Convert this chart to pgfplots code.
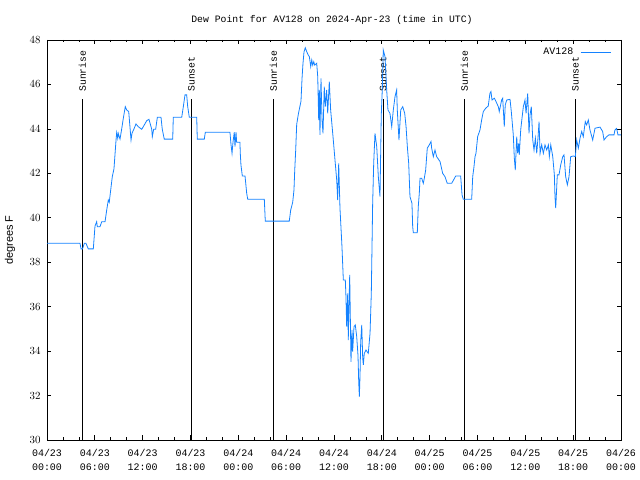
\documentclass[border=0pt]{standalone}
\usepackage{fontspec}
\setmainfont{Liberation Sans}
\newfontfamily\monofont{Liberation Mono}
\usepackage{pgfplots}
\pgfplotsset{compat=1.18}
\definecolor{dew}{RGB}{20,130,255}
\begin{document}
\begin{tikzpicture}
\path[use as bounding box] (0,0) rectangle (640bp,480bp);
\begin{axis}[
  at={(47bp,40bp)}, anchor=south west,
  scale only axis, width=574bp, height=400bp,
  xmin=0, xmax=72, ymin=30, ymax=48,
  xtick={0,6,...,72}, minor x tick num=2,
  xticklabels={04/23\\00:00,04/23\\06:00,04/23\\12:00,04/23\\18:00,04/24\\00:00,04/24\\06:00,04/24\\12:00,04/24\\18:00,04/25\\00:00,04/25\\06:00,04/25\\12:00,04/25\\18:00,04/26\\00:00},
  ytick={30,32,...,48},
  tick align=inside,
  major tick length=4.5bp, minor tick length=2.5bp,
  every tick/.style={black, line width=0.7bp},
  axis line style={line width=0.8bp},
  xticklabel style={align=center, font=\monofont\fontsize{10}{14}\selectfont, yshift=-6bp},
  yticklabel style={font=\fontsize{11}{12}\selectfont, xshift=-3bp},
  clip=false,
  legend style={at={(rel axis cs:0.983,0.985)}, anchor=north east, draw=none, fill=none, font=\monofont\fontsize{10}{12}\selectfont, inner sep=0pt, column sep=5bp},
  legend plot pos=right,
  legend image code/.code={\draw[#1] (0bp,0bp) -- (30bp,0bp);},
]
% sunrise / sunset lines
\addplot[black, line width=0.8bp, forget plot] coordinates {(4.43,30) (4.43,45.35)};
\addplot[black, line width=0.8bp, forget plot] coordinates {(18.10,30) (18.10,45.35)};
\addplot[black, line width=0.8bp, forget plot] coordinates {(28.39,30) (28.39,45.35)};
\addplot[black, line width=0.8bp, forget plot] coordinates {(42.18,30) (42.18,45.35)};
\addplot[black, line width=0.8bp, forget plot] coordinates {(52.34,30) (52.34,45.35)};
\addplot[black, line width=0.8bp, forget plot] coordinates {(66.27,30) (66.27,45.35)};
\node[rotate=90, anchor=west, font=\monofont\fontsize{9.8}{12}\selectfont, inner sep=0pt, xshift=7bp] at (axis cs:4.43,45.35) {Sunrise};
\node[rotate=90, anchor=west, font=\monofont\fontsize{9.8}{12}\selectfont, inner sep=0pt, xshift=7bp] at (axis cs:18.10,45.35) {Sunset};
\node[rotate=90, anchor=west, font=\monofont\fontsize{9.8}{12}\selectfont, inner sep=0pt, xshift=7bp] at (axis cs:28.39,45.35) {Sunrise};
\node[rotate=90, anchor=west, font=\monofont\fontsize{9.8}{12}\selectfont, inner sep=0pt, xshift=7bp] at (axis cs:42.18,45.35) {Sunset};
\node[rotate=90, anchor=west, font=\monofont\fontsize{9.8}{12}\selectfont, inner sep=0pt, xshift=7bp] at (axis cs:52.34,45.35) {Sunrise};
\node[rotate=90, anchor=west, font=\monofont\fontsize{9.8}{12}\selectfont, inner sep=0pt, xshift=7bp] at (axis cs:66.27,45.35) {Sunset};
\addplot[dew, line width=0.8bp] coordinates {
(0,38.85) (4.14,38.85) (4.27,38.6) (4.45,38.6) (4.68,38.85) (4.89,38.85) (5.18,38.6) (5.81,38.6)
(6.02,39.63) (6.23,39.82) (6.31,39.6) (6.65,39.6) (6.86,39.82) (7.28,39.82) (7.49,40.35) (7.69,40.8)
(7.81,40.7) (7.99,41.25) (8.19,41.85) (8.40,42.2) (8.66,43.5) (8.74,43.83) (8.87,43.58) (8.94,43.8)
(9.16,43.54) (9.37,44.0) (9.57,44.47) (9.82,45.0) (10.0,44.85) (10.25,44.78) (10.54,43.5) (10.66,43.8)
(10.91,44.0) (11.16,44.22) (11.45,44.1) (11.88,43.98) (12.21,44.18) (12.51,44.37) (12.79,44.43)
(13.14,43.98) (13.21,43.65) (13.38,43.98) (13.63,43.98) (13.84,44.52) (14.30,44.52) (14.46,43.98)
(14.71,43.54) (15.77,43.54) (15.84,44.52) (16.9,44.52) (17.10,45.0) (17.31,45.53) (17.52,45.53)
(17.65,45.0) (17.85,44.52) (18.78,44.52) (18.85,43.54) (19.73,43.54) (19.86,43.85)
(22.95,43.85) (23.08,43.3) (23.21,42.9) (23.33,43.4) (23.49,43.85) (23.58,43.2) (23.71,43.85)
(23.79,43.4) (24.20,43.4) (24.25,42.87) (24.33,42.37) (24.50,41.88) (24.84,41.88) (25.05,41.1)
(25.18,40.83) (27.26,40.83) (27.38,39.85) (30.39,39.85) (30.57,40.35) (30.82,40.7) (30.98,41.25)
(31.07,42.1) (31.19,43.0) (31.32,44.2) (31.52,44.65) (31.86,45.25) (31.99,46.27) (32.11,46.95)
(32.24,47.47) (32.40,47.65) (32.58,47.47) (32.78,47.32) (32.91,47.25) (33.08,46.8) (33.21,47.1)
(33.33,46.87) (33.46,47.02) (33.58,46.87) (33.83,46.95) (33.96,46.35) (34.08,44.4) (34.16,45.75)
(34.24,43.73) (34.37,46.27) (34.50,44.4) (34.62,43.8) (34.78,45.9) (34.91,45.0) (35.08,45.75)
(35.21,44.7) (35.41,46.13) (35.58,44.85) (35.84,43.8) (36.16,42.45) (36.34,41.7) (36.46,40.8)
(36.59,42.45) (36.75,40.43) (37.0,38.7) (37.17,37.2) (37.42,37.2) (37.50,36.45) (37.59,35.1)
(37.72,36.6) (37.79,34.5) (37.97,37.43) (38.13,33.52) (38.26,34.95) (38.34,33.98) (38.51,35.1)
(38.67,35.18) (38.85,34.65) (39.01,33.8) (39.10,32.62) (39.18,31.95) (39.26,32.85) (39.35,34.43)
(39.48,35.18) (39.60,33.7) (39.68,33.38) (39.80,33.9) (40.01,34.05) (40.30,33.9) (40.52,34.8)
(40.68,36.6) (40.85,40.65) (40.98,42.45) (41.14,43.8) (41.36,43.2) (41.56,41.85) (41.77,40.95)
(41.93,44.63) (42.06,45.8) (42.18,47.55) (42.40,47.25) (42.61,45.75) (42.77,44.85) (43.02,44.7)
(43.24,44.1) (43.44,44.85) (43.65,45.45) (43.86,45.75) (43.94,44.85) (44.15,43.5) (44.37,44.85)
(44.62,45.0) (44.87,44.7) (45.04,44.1) (45.20,43.2) (45.37,42.45) (45.53,40.95) (45.78,40.65)
(45.87,39.6) (45.95,39.33) (46.45,39.33) (46.57,40.5) (46.70,41.1) (46.79,41.78) (47.0,41.78)
(47.20,41.55) (47.33,41.78) (47.50,42.15) (47.70,43.13) (47.95,43.28) (48.17,43.43) (48.25,43.13)
(48.46,42.75) (48.67,43.05) (48.88,42.75) (49.30,42.53) (49.63,42.0) (49.92,41.85) (50.21,41.55)
(50.76,41.55) (51.27,41.88) (51.89,41.88) (52.06,41.03) (52.22,40.83) (53.27,40.83) (53.40,41.85)
(53.56,42.3) (53.69,42.75) (53.81,42.9) (54.02,43.65) (54.31,43.95) (54.52,44.4) (54.73,44.78)
(55.03,44.93) (55.35,45.03) (55.56,45.6) (55.69,45.68) (55.82,45.3) (56.11,45.38) (56.32,45.23)
(56.61,45.0) (56.73,44.78) (57.03,45.3) (57.16,45.38) (57.36,44.1) (57.48,45.08) (57.67,45.3)
(58.08,45.33) (58.24,44.78) (58.49,43.73) (58.62,42.68) (58.74,42.15) (58.92,43.65) (59.04,42.9)
(59.17,43.35) (59.24,42.83) (59.42,43.95) (59.58,44.47) (59.75,45.0) (59.96,45.3) (60.09,44.7)
(60.30,45.6) (60.46,43.8) (60.59,44.63) (60.75,45.0) (60.93,43.5) (61.09,43.05) (61.26,43.58)
(61.43,42.9) (61.60,43.65) (61.72,44.33) (61.85,42.9) (62.05,43.28) (62.26,42.9) (62.47,43.28)
(62.68,43.05) (62.89,43.28) (63.01,42.75) (63.19,43.28) (63.44,42.75) (63.64,41.93) (63.72,40.95)
(63.81,40.43) (64.01,41.93) (64.22,41.93) (64.44,42.38) (64.69,42.75) (64.85,42.83) (65.06,41.85)
(65.27,41.48) (65.48,41.85) (65.69,42.75) (66.02,42.78) (66.27,42.75) (66.44,43.5) (66.65,43.13)
(66.86,43.58) (67.07,43.88) (67.27,43.65) (67.52,44.33) (67.69,44.18) (67.90,44.4) (68.11,43.95)
(68.45,43.5) (68.74,44.03) (69.37,44.08) (69.70,43.88) (69.87,43.5) (70.20,43.65) (70.49,43.73)
(71.12,43.73) (71.24,43.95) (71.45,44.02) (71.62,43.73) (72.0,43.73)
};
\addlegendentry{AV128}
\end{axis}
\node[font=\monofont\fontsize{9.8}{12}\selectfont] at (332bp,460bp) {Dew Point for AV128 on 2024-Apr-23 (time in UTC)};
\node[rotate=90, font=\fontsize{11}{12}\selectfont] at (10bp,240bp) {degrees F};
\end{tikzpicture}
\end{document}
